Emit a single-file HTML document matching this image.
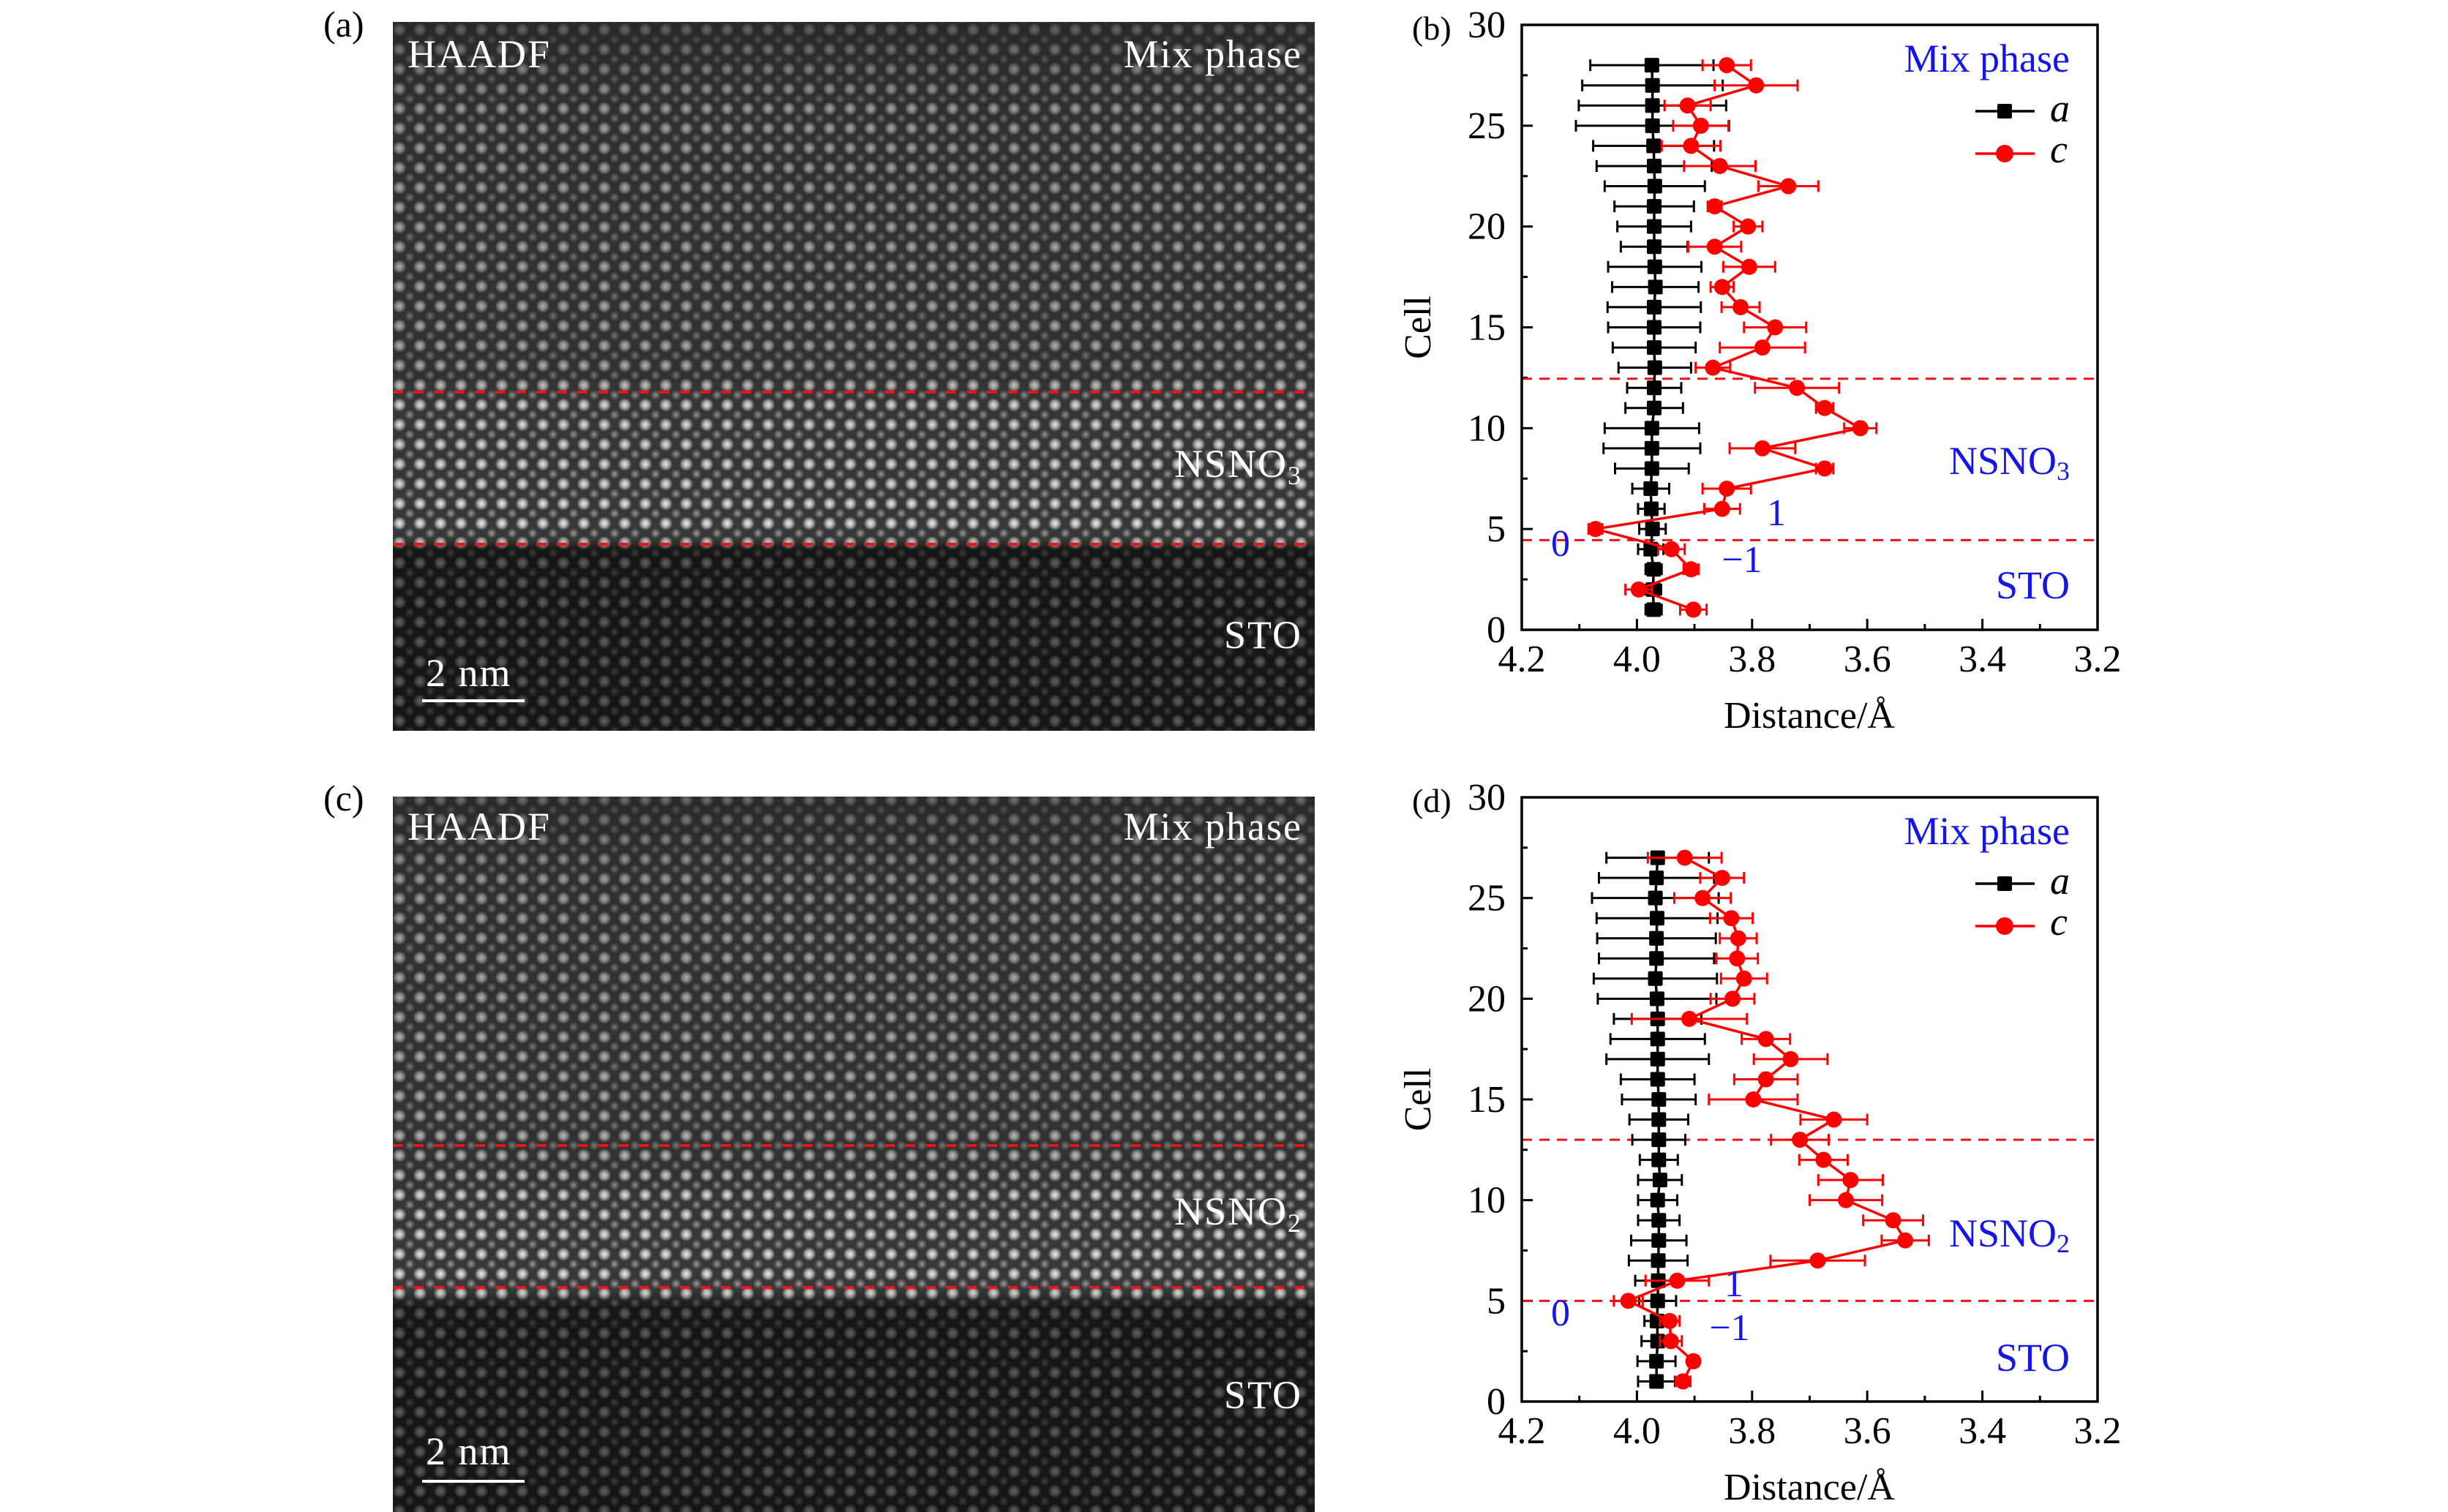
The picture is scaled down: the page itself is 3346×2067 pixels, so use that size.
<!DOCTYPE html>
<html><head><meta charset="utf-8">
<style>
html,body{margin:0;padding:0;background:#fff;}
svg{display:block;font-family:"Liberation Serif",serif;}
</style></head>
<body>
<svg id="fig" width="3346" height="2067" viewBox="0 0 3346 2067" xmlns="http://www.w3.org/2000/svg">
<defs>
  <radialGradient id="dotB"><stop offset="0" stop-color="#f0f0f0"/><stop offset="0.5" stop-color="#b0b0b0"/><stop offset="1" stop-color="#b0b0b0" stop-opacity="0"/></radialGradient>
  <radialGradient id="dotD"><stop offset="0" stop-color="#9a9a9a"/><stop offset="1" stop-color="#9a9a9a" stop-opacity="0"/></radialGradient>
  <pattern id="lat" width="28" height="27" patternUnits="userSpaceOnUse">
    <rect width="28" height="27" fill="#383838"/>
    <circle cx="14" cy="13.5" r="9.5" fill="url(#dotB)"/>
    <circle cx="0" cy="0" r="7" fill="url(#dotD)"/><circle cx="28" cy="0" r="7" fill="url(#dotD)"/>
    <circle cx="0" cy="27" r="7" fill="url(#dotD)"/><circle cx="28" cy="27" r="7" fill="url(#dotD)"/>
  </pattern>
  <linearGradient id="shadeA" x1="0" y1="0" x2="0" y2="1">
    <stop offset="0" stop-color="#222" stop-opacity="0.7"/>
    <stop offset="0.12" stop-color="#222" stop-opacity="0.35"/>
    <stop offset="0.5" stop-color="#222" stop-opacity="0.3"/>
    <stop offset="0.53" stop-color="#222" stop-opacity="0.08"/>
    <stop offset="0.73" stop-color="#000" stop-opacity="0"/>
    <stop offset="0.745" stop-color="#000" stop-opacity="0.6"/>
    <stop offset="1" stop-color="#000" stop-opacity="0.6"/>
  </linearGradient>
  <linearGradient id="shadeC" x1="0" y1="0" x2="0" y2="1">
    <stop offset="0" stop-color="#222" stop-opacity="0.65"/>
    <stop offset="0.12" stop-color="#222" stop-opacity="0.35"/>
    <stop offset="0.5" stop-color="#222" stop-opacity="0.25"/>
    <stop offset="0.55" stop-color="#000" stop-opacity="0.05"/>
    <stop offset="0.69" stop-color="#000" stop-opacity="0"/>
    <stop offset="0.715" stop-color="#000" stop-opacity="0.6"/>
    <stop offset="1" stop-color="#000" stop-opacity="0.6"/>
  </linearGradient>
</defs>

<!-- Panel (a) -->
<text x="442" y="50" font-size="50">(a)</text>
<g letter-spacing="2">
  <rect x="537" y="30" width="1260" height="969" fill="url(#lat)"/>
  <rect x="537" y="30" width="1260" height="969" fill="url(#shadeA)"/>
  <line x1="537" y1="536" x2="1797" y2="536" stroke="#e8161b" stroke-width="4" stroke-dasharray="14 14"/>
  <line x1="537" y1="744" x2="1797" y2="744" stroke="#e8161b" stroke-width="4" stroke-dasharray="14 14"/>
  <text x="557" y="92" font-size="54" fill="#fff">HAADF</text>
  <text x="1780" y="92" font-size="54" fill="#fff" text-anchor="end">Mix phase</text>
  <text x="1780" y="652" font-size="54" fill="#fff" text-anchor="end">NSNO<tspan font-size="36" dy="10">3</tspan></text>
  <text x="1780" y="886" font-size="54" fill="#fff" text-anchor="end">STO</text>
  <text x="582" y="938" font-size="54" fill="#fff">2 nm</text>
  <line x1="577" y1="958" x2="717" y2="958" stroke="#fff" stroke-width="4"/>
</g>

<!-- Panel (c) -->
<text x="442" y="1108" font-size="50">(c)</text>
<g letter-spacing="2">
  <rect x="537" y="1089" width="1260" height="978" fill="url(#lat)"/>
  <rect x="537" y="1089" width="1260" height="978" fill="url(#shadeC)"/>
  <line x1="537" y1="1566" x2="1797" y2="1566" stroke="#e8161b" stroke-width="4" stroke-dasharray="14 14"/>
  <line x1="537" y1="1760" x2="1797" y2="1760" stroke="#e8161b" stroke-width="4" stroke-dasharray="14 14"/>
  <text x="557" y="1148" font-size="54" fill="#fff">HAADF</text>
  <text x="1780" y="1148" font-size="54" fill="#fff" text-anchor="end">Mix phase</text>
  <text x="1780" y="1674" font-size="54" fill="#fff" text-anchor="end">NSNO<tspan font-size="36" dy="10">2</tspan></text>
  <text x="1780" y="1925" font-size="54" fill="#fff" text-anchor="end">STO</text>
  <text x="582" y="2002" font-size="54" fill="#fff">2 nm</text>
  <line x1="577" y1="2025" x2="717" y2="2025" stroke="#fff" stroke-width="4"/>
</g>

<g id="chartB"></g>
<g id="chartD"></g>
</svg>
<script>
const cells = [28,27,26,25,24,23,22,21,20,19,18,17,16,15,14,13,12,11,10,9,8,7,6,5,4,3,2,1];
const bA = [3.974,3.973,3.973,3.973,3.971,3.970,3.969,3.970,3.970,3.970,3.969,3.968,3.970,3.970,3.970,3.969,3.970,3.970,3.974,3.974,3.974,3.976,3.975,3.973,3.976,3.971,3.972,3.971];
const bAerr = [0.107,0.122,0.128,0.133,0.105,0.100,0.087,0.069,0.064,0.058,0.081,0.075,0.081,0.080,0.072,0.063,0.047,0.050,0.082,0.084,0.064,0.032,0.023,0.023,0.022,0.014,0.014,0.014];
const bC = [3.844,3.793,3.912,3.889,3.906,3.856,3.737,3.865,3.807,3.865,3.805,3.852,3.820,3.760,3.782,3.868,3.722,3.674,3.612,3.782,3.674,3.844,3.852,4.072,3.940,3.906,3.997,3.902];
const bCerr = [0.042,0.072,0.040,0.048,0.051,0.062,0.052,0.012,0.025,0.046,0.045,0.020,0.033,0.054,0.074,0.030,0.073,0.015,0.028,0.057,0.015,0.042,0.031,0.012,0.023,0.013,0.023,0.023];
const cellsD = [27,26,25,24,23,22,21,20,19,18,17,16,15,14,13,12,11,10,9,8,7,6,5,4,3,2,1];
const dA = [3.964,3.966,3.968,3.965,3.966,3.966,3.968,3.965,3.964,3.964,3.964,3.964,3.962,3.962,3.962,3.962,3.960,3.964,3.962,3.962,3.963,3.963,3.964,3.965,3.964,3.966,3.966];
const dAerr = [0.089,0.100,0.110,0.105,0.103,0.100,0.107,0.103,0.076,0.082,0.089,0.064,0.064,0.051,0.046,0.033,0.038,0.034,0.036,0.048,0.051,0.040,0.032,0.022,0.028,0.033,0.032];
const dC = [3.917,3.852,3.886,3.836,3.824,3.826,3.814,3.834,3.909,3.776,3.733,3.776,3.798,3.658,3.717,3.676,3.629,3.637,3.555,3.534,3.686,3.930,4.015,3.943,3.941,3.902,3.920];
const dCerr = [0.064,0.038,0.049,0.037,0.032,0.036,0.040,0.038,0.100,0.042,0.064,0.055,0.077,0.058,0.050,0.042,0.056,0.063,0.052,0.041,0.082,0.055,0.025,0.017,0.019,0.009,0.013];
const xTicks = [4.2,4.0,3.8,3.6,3.4,3.2];
const xTickLabels = ["4.2","4.0","3.8","3.6","3.4","3.2"];
const yTicks = [0,5,10,15,20,25,30];
const bInterfaces = [12.45,4.45];
const dInterfaces = [13,5];

const NS='http://www.w3.org/2000/svg';
function mk(parent,tag,attrs,text){const e=document.createElementNS(NS,tag);for(const k in attrs)e.setAttribute(k,attrs[k]);if(text!==undefined)e.textContent=text;parent.appendChild(e);return e;}

function drawChart(g, top, bottom, cellArr, A, Aerr, C, Cerr, ifaces, letter, phaseSub, ann){
  const L=2080,R=2867;
  const sx=v=>L+(4.2-v)/(4.2-3.2)*(R-L);
  const sy=v=>bottom-(v/30)*(bottom-top);
  
  
  const lab=mk(g,'text',{x:1930,y:top+20,'font-size':46},'('+letter+')');
  
  
  const ax=mk(g,'g',{});
  
  
  for(let v=0;v<=30;v+=2.5){const major=v%5===0;mk(ax,'line',{x1:L,x2:L+(major?15:8),y1:sy(v),y2:sy(v),stroke:'#000','stroke-width':3});}
  yTicks.forEach(v=>{const t=mk(ax,'text',{x:2058,y:sy(v)+17,'font-size':52,'text-anchor':'end'},String(v));
    
    });
  const xa=mk(g,'g',{});
  
  
  for(let i=0;i<=10;i++){const v=4.2-i*0.1;const major=i%2===0;mk(xa,'line',{x1:sx(v),x2:sx(v),y1:bottom,y2:bottom-(major?15:8),stroke:'#000','stroke-width':3});}
  xTicks.forEach((v,i)=>{const t=mk(xa,'text',{x:sx(v),y:bottom+57,'font-size':52,'text-anchor':'middle'},xTickLabels[i]);
    
    });
  const xt=mk(g,'text',{x:2473,y:bottom+134,'font-size':52,'text-anchor':'middle'},'Distance/Å');
  
  
  const cy=(top+bottom)/2;
  const yt=mk(g,'text',{x:1955,y:cy,'font-size':52,'text-anchor':'middle',transform:'rotate(-90 1955 '+cy+')'},'Cell');
  
  
  ifaces.forEach(v=>{const l=mk(g,'line',{x1:L,x2:R,y1:sy(v),y2:sy(v),stroke:'#e8161b','stroke-width':3,'stroke-dasharray':'14 10'});
    
    });
  function series(X,E,col,shape,name){
    const s=mk(g,'g',{});
    
    
    const pts=cellArr.map((c,i)=>sx(X[i])+','+sy(c)).join(' ');
    mk(s,'polyline',{points:pts,fill:'none',stroke:col,'stroke-width':3.5});
    cellArr.forEach((c,i)=>{
      const y=sy(c),x1=sx(X[i]-E[i]),x2=sx(X[i]+E[i]);
      const eb=mk(s,'path',{d:`M${x1},${y}H${x2}M${x1},${y-8}V${y+8}M${x2},${y-8}V${y+8}`,stroke:col,'stroke-width':3,fill:'none'});
      
      
    });
    cellArr.forEach((c,i)=>{
      const x=sx(X[i]),y=sy(c);let m;
      if(shape==='sq') m=mk(s,'rect',{x:x-10,y:y-10,width:20,height:20,rx:2,fill:col});
      else m=mk(s,'circle',{cx:x,cy:y,r:11,fill:col});
      
      
    });
  }
  series(A,Aerr,'#000','sq','a');
  series(C,Cerr,'#f00','ci','c');
  const fr=mk(g,'rect',{x:L,y:top,width:R-L,height:bottom-top,fill:'none',stroke:'#000','stroke-width':3.5});
  
  
  const lg=mk(g,'g',{});
  
  
  mk(lg,'line',{x1:2700,x2:2781,y1:top+118,y2:top+118,stroke:'#000','stroke-width':3.5});
  mk(lg,'rect',{x:2730,y:top+108,width:20,height:20,rx:2,fill:'#000'});
  mk(lg,'text',{x:2802,y:top+132,'font-size':54,'font-style':'italic'},'a');
  mk(lg,'line',{x1:2700,x2:2781,y1:top+176,y2:top+176,stroke:'#f00','stroke-width':3.5});
  mk(lg,'circle',{cx:2740,cy:top+176,r:12,fill:'#f00'});
  mk(lg,'text',{x:2802,y:top+188,'font-size':54,'font-style':'italic'},'c');
  const blue='#1515e8';
  const t1=mk(g,'text',{x:2829,y:top+64,'font-size':54,fill:blue,'text-anchor':'end'},'Mix phase');
  
  
  const t2=mk(g,'text',{x:2829,y:top+614,'font-size':54,fill:blue,'text-anchor':'end'},'');
  
  
  t2.textContent='NSNO';
  mk(t2,'tspan',{'font-size':36,dy:8},phaseSub);
  const t3=mk(g,'text',{x:2829,y:top+784,'font-size':54,fill:blue,'text-anchor':'end'},'STO');
  
  
  ann.forEach(a=>{const t=mk(g,'text',{x:a[0],y:top+a[1],'font-size':52,fill:blue,'text-anchor':'middle'},a[2]);
    
    });
}
drawChart(document.getElementById('chartB'),34,861,cells,bA,bAerr,bC,bCerr,bInterfaces,'b','3',
  [[2428,684,'1'],[2133,726,'0'],[2381,748,'−1']]);
drawChart(document.getElementById('chartD'),1090,1916,cellsD,dA,dAerr,dC,dCerr,dInterfaces,'d','2',
  [[2370,682,'1'],[2133,722,'0'],[2364,742,'−1']]);
</script>
</body></html>
